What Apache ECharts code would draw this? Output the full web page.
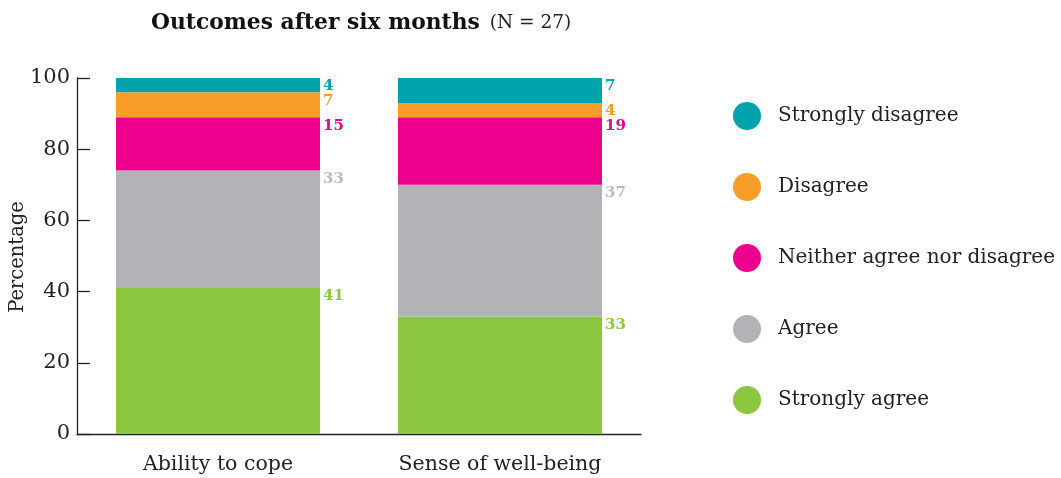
<!DOCTYPE html>
<html><head><meta charset="utf-8">
<script src="https://cdn.jsdelivr.net/npm/echarts@6/dist/echarts.min.js"></script>
<style>html,body{margin:0;padding:0;background:#fff}#c{width:1061px;height:478px}</style>
</head><body><div id="c"></div>
<script>
const categories = ['Ability to cope', 'Sense of well-being'];
const seriesNames = ['Strongly agree', 'Agree', 'Neither agree nor disagree', 'Disagree', 'Strongly disagree'];
const stronglyAgree = [41, 33];
const agree = [33, 37];
const neither = [15, 19];
const disagree = [7, 4];
const stronglyDisagree = [4, 7];
const yTicks = [0, 20, 40, 60, 80, 100];
const yAxisTitle = 'Percentage';
const legendOrder = ['Strongly disagree', 'Disagree', 'Neither agree nor disagree', 'Agree', 'Strongly agree'];

const colors = ['#8DC63F', '#B1B3B6', '#EC008C', '#F99D2A', '#00A3AD'];
const labelColors = ['#8DC63F', '#B9BBBE', '#EC008C', '#F99D2A', '#00A3AD'];
const values = [stronglyAgree, agree, neither, disagree, stronglyDisagree];
const FONT = 'DejaVu Serif';

const chart = echarts.init(document.getElementById('c'));
chart.setOption({
  animation: false,
  backgroundColor: '#fff',
  title: {
    text: '{b|Outcomes after six months}  {n|(N = 27)}',
    left: 146, top: 7,
    textStyle: { rich: {
      b: { fontFamily: FONT, fontWeight: 'bold', fontSize: 21.8, color: '#111' },
      n: { fontFamily: FONT, fontWeight: 'normal', fontSize: 18.5, color: '#222' }
    } }
  },
  graphic: [{
    type: 'text', x: 18, y: 257, rotation: Math.PI / 2,
    style: { text: yAxisTitle, fontFamily: FONT, fontSize: 19.5, fill: '#222',
      align: 'center', verticalAlign: 'middle' }
  }],
  legend: {
    data: legendOrder,
    orient: 'vertical', left: 728, top: 97,
    icon: 'circle', itemWidth: 28, itemHeight: 28, itemGap: 43,
    textStyle: { fontFamily: FONT, fontSize: 20, color: '#222', padding: [0, 0, 0, 12] }
  },
  grid: { left: 77, right: 420, top: 78, bottom: 44, outerBoundsMode: 'none' },
  xAxis: {
    type: 'category', data: categories,
    axisLine: { lineStyle: { color: '#222', width: 1.3 } },
    axisTick: { inside: true, length: 8, lineStyle: { color: '#222', width: 1.3 } },
    axisLabel: { fontFamily: FONT, fontSize: 20.5, color: '#222', margin: 20 }
  },
  yAxis: {
    type: 'value', min: 0, max: 100, interval: 20,
    axisLine: { show: true, lineStyle: { color: '#222', width: 1.3 } },
    axisTick: { show: true, inside: true, length: 13, lineStyle: { color: '#222', width: 1.3 } },
    axisLabel: { fontFamily: FONT, fontSize: 21, color: '#222', margin: 7,
      formatter: v => yTicks.includes(v) ? String(v) : '' },
    splitLine: { show: false }
  },
  series: seriesNames.map((name, i) => ({
    name, type: 'bar', stack: 'total', barWidth: 204,
    data: values[i],
    itemStyle: { color: colors[i] },
    label: {
      show: true, position: ['100%', 0], offset: [3, 1],
      align: 'left', verticalAlign: 'top',
      fontFamily: FONT, fontWeight: 'bold', fontSize: 15, color: labelColors[i]
    }
  }))
});
</script></body></html>
